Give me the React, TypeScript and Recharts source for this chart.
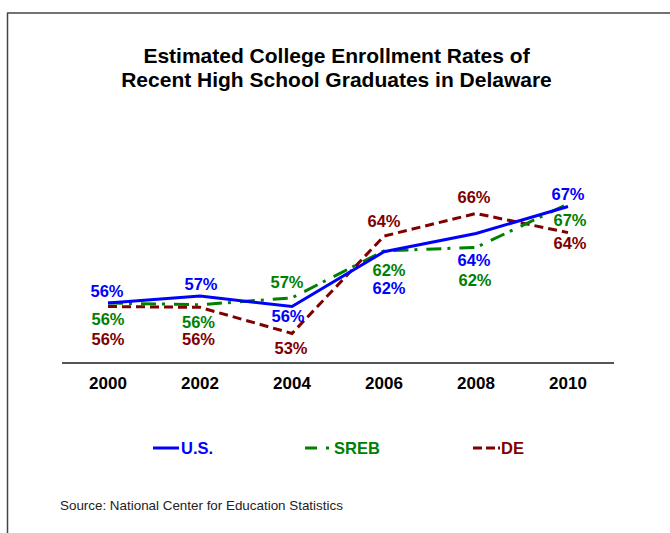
import React from 'react';
import { LineChart, Line, XAxis, YAxis, LabelList } from 'recharts';

const years = ['2000', '2002', '2004', '2006', '2008', '2010'];
const usRates = [56.0, 56.8, 55.6, 61.9, 64.0, 67.1];
const srebRates = [56.0, 55.8, 56.6, 62.0, 62.4, 67.4];
const deRates = [55.6, 55.5, 52.5, 63.7, 66.3, 64.1];

const titleLines = ['Estimated College Enrollment Rates of', 'Recent High School Graduates in Delaware'];
const sourceText = 'Source: National Center for Education Statistics';

const FONT = '"Liberation Sans", Arial, Helvetica, sans-serif';
const US_COLOR = '#0000FF';
const SREB_COLOR = '#008000';
const DE_COLOR = '#800000';

// label offsets (dx, dy of text centre relative to point)
const usLabelOffsets = [[-1, -12], [1, -12], [-4, 9], [5, 36], [-2, 27], [0, -12.5]];
const srebLabelOffsets = [[0, 16], [-1.5, 17], [-5, -16], [5, 19], [-1, 33], [2, 16]];
const deLabelOffsets = [[0, 32.5], [-1.5, 31.5], [-1, 14.5], [0, -15.5], [-2, -16], [2, 10.5]];

const data = years.map((y, i) => ({ year: y, us: usRates[i], sreb: srebRates[i], de: deRates[i] }));

const makeLabel = (offsets: number[][], color: string) => (props: any) => {
  const { x, y, value, index } = props;
  const off = offsets[index] || [0, -12];
  return (
    <text
      x={x + off[0]}
      y={y + off[1] + 6}
      textAnchor="middle"
      fill={color}
      fontSize={16.5}
      fontWeight="bold"
      fontFamily={FONT}
    >
      {Math.round(value) + '%'}
    </text>
  );
};

export default function App() {
  return (
    <div
      style={{
        position: 'absolute',
        left: 0,
        top: 0,
        width: 670,
        height: 533,
        overflow: 'hidden',
        background: '#fff',
      }}
    >
      <LineChart
        width={670}
        height={533}
        data={data}
        margin={{ top: 137, right: 56, bottom: 140, left: 62 }}
      >
        <XAxis
          dataKey="year"
          height={30}
          padding={{ left: 46, right: 46 }}
          tickLine={false}
          tickSize={0}
          tickMargin={13.5}
          axisLine={{ stroke: '#555', strokeWidth: 2 }}
          tick={{ fill: '#000', fontSize: 17, fontWeight: 'bold', fontFamily: FONT }}
        />
        <YAxis hide type="number" domain={[49.1, 75.1]} allowDataOverflow />
        <Line
          type="linear"
          dataKey="de"
          stroke={DE_COLOR}
          strokeWidth={3}
          strokeDasharray="9 5"
          dot={false}
          isAnimationActive={false}
        >
          <LabelList dataKey="de" content={makeLabel(deLabelOffsets, DE_COLOR)} />
        </Line>
        <Line
          type="linear"
          dataKey="sreb"
          stroke={SREB_COLOR}
          strokeWidth={3}
          strokeDasharray="15 6 3 9"
          dot={false}
          isAnimationActive={false}
        >
          <LabelList dataKey="sreb" content={makeLabel(srebLabelOffsets, SREB_COLOR)} />
        </Line>
        <Line
          type="linear"
          dataKey="us"
          stroke={US_COLOR}
          strokeWidth={3}
          dot={false}
          isAnimationActive={false}
        >
          <LabelList dataKey="us" content={makeLabel(usLabelOffsets, US_COLOR)} />
        </Line>
      </LineChart>
      <svg
        width={670}
        height={533}
        style={{ position: 'absolute', left: 0, top: 0, pointerEvents: 'none' }}
      >
        <line x1={7} y1={13} x2={670} y2={13} stroke="#444" strokeWidth={1.5} />
        <line x1={7.5} y1={13} x2={7.5} y2={533} stroke="#444" strokeWidth={1.5} />
        <text x={336.5} y={63.3} textAnchor="middle" fontSize={21} fontWeight="bold" fontFamily={FONT} fill="#000">
          {titleLines[0]}
        </text>
        <text x={336.5} y={87.3} textAnchor="middle" fontSize={21} fontWeight="bold" fontFamily={FONT} fill="#000">
          {titleLines[1]}
        </text>
        {/* legend */}
        <line x1={153} y1={448} x2={179} y2={448} stroke={US_COLOR} strokeWidth={3} />
        <text x={181} y={454} fontSize={16.5} fontWeight="bold" fontFamily={FONT} fill={US_COLOR}>U.S.</text>
        <line x1={305} y1={448} x2={329} y2={448} stroke={SREB_COLOR} strokeWidth={3} strokeDasharray="12 9 3 9" />
        <text x={334} y={454} fontSize={16.5} fontWeight="bold" fontFamily={FONT} fill={SREB_COLOR}>SREB</text>
        <line x1={473} y1={448} x2={500} y2={448} stroke={DE_COLOR} strokeWidth={3} strokeDasharray="9 4 9 3 2 10" />
        <text x={501} y={454} fontSize={16.5} fontWeight="bold" fontFamily={FONT} fill={DE_COLOR}>DE</text>
        <text x={60} y={510} fontSize={13.4} fontFamily={FONT} fill="#222">{sourceText}</text>
      </svg>
    </div>
  );
}
